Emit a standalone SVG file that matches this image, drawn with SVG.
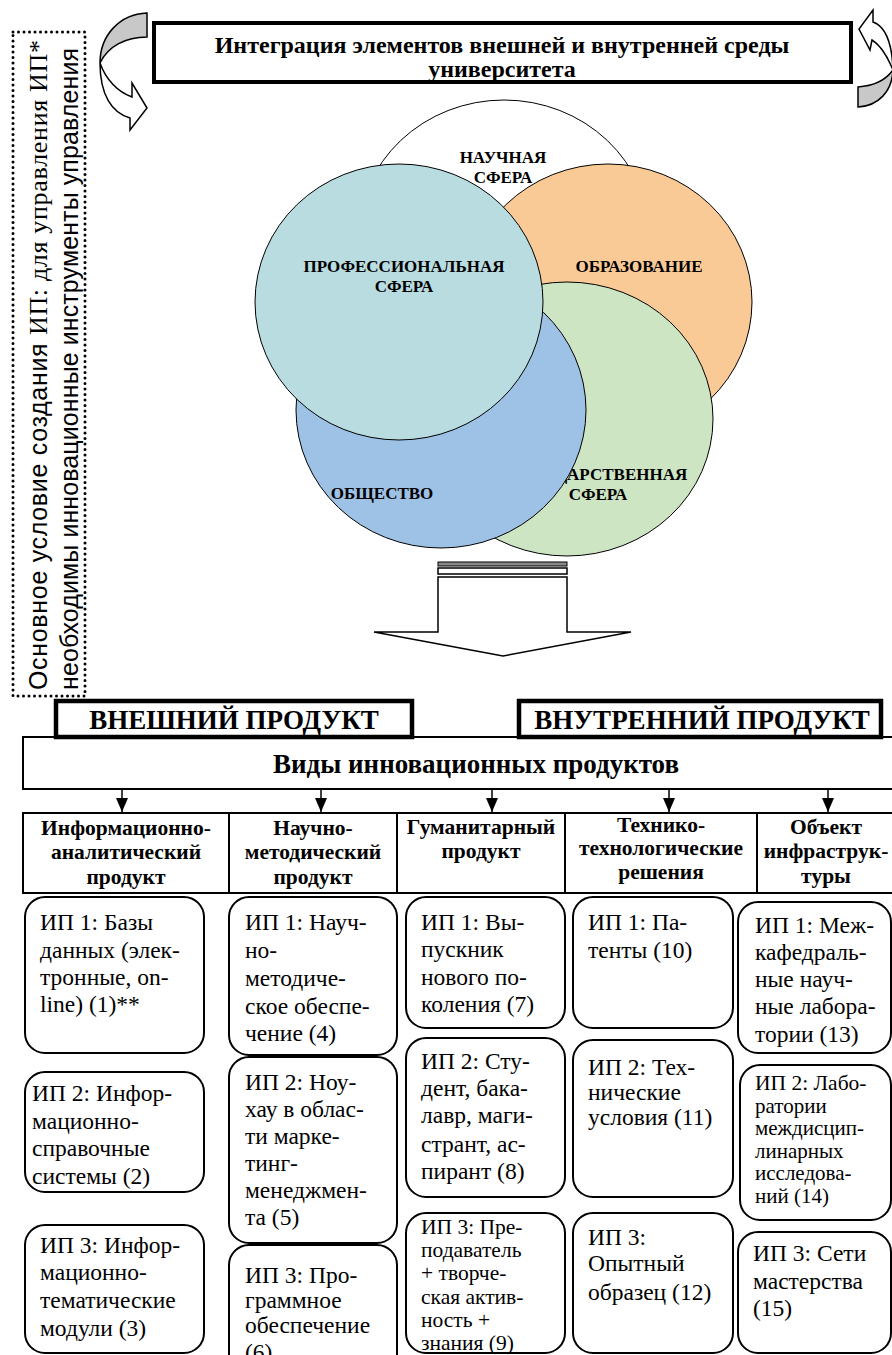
<svg xmlns="http://www.w3.org/2000/svg" width="892" height="1355" viewBox="0 0 892 1355">
<style>
.serif{font-family:"Liberation Serif","Times New Roman",serif;}
.sans{font-family:"Liberation Sans",Arial,sans-serif;}
.hd{font-family:"Liberation Serif","Times New Roman",serif;font-weight:bold;font-size:24px;text-anchor:middle;}
.pr{font-family:"Liberation Serif","Times New Roman",serif;font-weight:bold;font-size:27px;text-anchor:middle;}
.cl{font-family:"Liberation Serif","Times New Roman",serif;font-weight:bold;font-size:17px;text-anchor:middle;}
.th{font-family:"Liberation Serif","Times New Roman",serif;font-weight:bold;font-size:21.5px;text-anchor:middle;}
.bt{font-family:"Liberation Serif","Times New Roman",serif;font-size:23.5px;}
.bs{font-family:"Liberation Serif","Times New Roman",serif;font-size:21px;}
.bm{font-family:"Liberation Serif","Times New Roman",serif;font-size:21.5px;}
.rb{fill:#fff;stroke:#000;stroke-width:2;}
.ln{stroke:#000;stroke-width:1.5;fill:none;}
.circ{stroke:#000;stroke-width:1;}
</style>
<defs>
<marker id="ah" markerWidth="14" markerHeight="12" refX="14" refY="6" orient="auto" markerUnits="userSpaceOnUse" viewBox="0 0 14 12">
<path d="M0,0 L14,6 L0,12 Z" fill="#000"/>
</marker>
</defs>
<rect width="892" height="1355" fill="#fff"/>

<!-- vertical note -->
<g id="note">
<rect x="13" y="32" width="72" height="664" fill="none" stroke="#000" stroke-width="3" stroke-dasharray="0 5.5" stroke-linecap="round"/>
<text transform="translate(47,690) rotate(-90)" font-size="25" textLength="650" lengthAdjust="spacing"><tspan class="sans">Основное условие создания </tspan><tspan class="serif" font-size="26">ИП: для управления ИП*</tspan></text>
<text class="sans" transform="translate(78,690) rotate(-90)" font-size="25" textLength="642" lengthAdjust="spacing">необходимы инновационные инструменты управления</text>
</g>

<!-- curved arrows -->
<g id="curved-left">
<path d="M147,13 C120,14 100,35 100,63 C108,46 126,37 147,37 Z" fill="#c8c8c8" stroke="#000" stroke-width="1.5"/>
<path d="M100,63 C106,80 118,92 132,97 L132,83 L147,108 L130,130 L130,118 C112,113 100,95 100,63 Z" fill="#fff" stroke="#000" stroke-width="1.5"/>
</g>
<g id="curved-right">
<path d="M873,22 C884,26 892,40 893,70 C888,58 882,46 872,40 L870,50 L859,29 L873,10 Z" fill="#fff" stroke="#000" stroke-width="1.5"/>
<path d="M893,70 C892,92 878,106 858,107 L858,87 C873,86 886,80 893,70 Z" fill="#c8c8c8" stroke="#000" stroke-width="1.5"/>
</g>

<!-- header -->
<g id="header">
<rect x="154" y="23" width="697" height="59" fill="#fff" stroke="#000" stroke-width="4"/>
<text class="hd" x="502" y="53">Интеграция элементов внешней и внутренней среды</text>
<text class="hd" x="502" y="77">университета</text>
</g>

<!-- circles -->
<g id="circle-science">
<ellipse class="circ" cx="504" cy="238" rx="146" ry="138" fill="#fff"/>
</g>
<g id="circle-education">
<ellipse class="circ" cx="608" cy="302" rx="144" ry="138" fill="#f9c996"/>
</g>
<g id="circle-state">
<ellipse class="circ" cx="567" cy="419" rx="146" ry="137" fill="#cde5c3"/>
<text class="cl" x="598" y="480">ГОСУДАРСТВЕННАЯ</text>
<text class="cl" x="598" y="500">СФЕРА</text>
</g>
<g id="circle-society">
<ellipse class="circ" cx="441" cy="410" rx="145" ry="138" fill="#9ec2e6"/>
<text class="cl" x="382" y="499">ОБЩЕСТВО</text>
</g>
<g id="circle-prof">
<ellipse class="circ" cx="399" cy="302" rx="144" ry="138" fill="#b8dce0"/>
<text class="cl" x="404" y="272">ПРОФЕССИОНАЛЬНАЯ</text>
<text class="cl" x="404" y="292">СФЕРА</text>
</g>
<g id="labels-top">
<text class="cl" x="503" y="163">НАУЧНАЯ</text>
<text class="cl" x="503" y="183">СФЕРА</text>
<text class="cl" x="639" y="272">ОБРАЗОВАНИЕ</text>
</g>

<!-- block arrow -->
<g id="block-arrow">
<rect x="438" y="562" width="129" height="4" fill="#8a8a8a" stroke="#000" stroke-width="1"/>
<rect x="438" y="568" width="129" height="6" fill="#fff" stroke="#000" stroke-width="1.5"/>
<polygon points="438,577 567,577 567,632 631,632 503,656 374,632 438,632" fill="#fff" stroke="#000" stroke-width="1.5"/>
</g>

<!-- types box -->
<g id="types">
<rect x="23" y="737" width="890" height="52" fill="#fff" stroke="#000" stroke-width="2"/>
<text class="pr" x="476" y="773" font-size="28">Виды инновационных продуктов</text>
</g>
<g id="external">
<rect x="56" y="701" width="356" height="36" fill="#fff" stroke="#000" stroke-width="4.5"/>
<text class="pr" x="234" y="729">ВНЕШНИЙ ПРОДУКТ</text>
</g>
<g id="internal">
<rect x="519" y="701" width="362" height="36" fill="#fff" stroke="#000" stroke-width="4.5"/>
<text class="pr" x="702" y="729">ВНУТРЕННИЙ ПРОДУКТ</text>
</g>

<!-- connectors -->
<g id="connectors">
<line class="ln" x1="122" y1="789" x2="122" y2="812" marker-end="url(#ah)"/>
<line class="ln" x1="321" y1="789" x2="321" y2="812" marker-end="url(#ah)"/>
<line class="ln" x1="492" y1="789" x2="492" y2="812" marker-end="url(#ah)"/>
<line class="ln" x1="669" y1="789" x2="669" y2="812" marker-end="url(#ah)"/>
<line class="ln" x1="828" y1="789" x2="828" y2="812" marker-end="url(#ah)"/>
</g>

<!-- table header -->
<g id="table-header">
<rect x="23" y="813" width="890" height="80" fill="#fff" stroke="#000" stroke-width="2"/>
<line x1="229" y1="813" x2="229" y2="893" stroke="#000" stroke-width="2"/>
<line x1="397" y1="813" x2="397" y2="893" stroke="#000" stroke-width="2"/>
<line x1="565" y1="813" x2="565" y2="893" stroke="#000" stroke-width="2"/>
<line x1="757" y1="813" x2="757" y2="893" stroke="#000" stroke-width="2"/>
<text class="th" x="126" y="835">Информационно-</text>
<text class="th" x="126" y="859">аналитический</text>
<text class="th" x="126" y="884">продукт</text>
<text class="th" x="313" y="835">Научно-</text>
<text class="th" x="313" y="859">методический</text>
<text class="th" x="313" y="884">продукт</text>
<text class="th" x="481" y="834">Гуманитарный</text>
<text class="th" x="481" y="858">продукт</text>
<text class="th" x="661" y="832">Технико-</text>
<text class="th" x="661" y="855">технологические</text>
<text class="th" x="661" y="879">решения</text>
<text class="th" x="826" y="834">Объект</text>
<text class="th" x="826" y="858">инфраструк-</text>
<text class="th" x="826" y="883">туры</text>
</g>

<!-- column 1 -->
<g id="ip1-1">
<rect class="rb" x="25" y="897" width="179" height="156" rx="20"/>
<text class="bt" x="40" y="930">ИП 1: Базы</text>
<text class="bt" x="40" y="958">данных (элек-</text>
<text class="bt" x="40" y="985">тронные, on-</text>
<text class="bt" x="40" y="1012">line) (1)**</text>
</g>
<g id="ip1-2">
<rect class="rb" x="25" y="1072" width="179" height="120" rx="20"/>
<text class="bt" x="32" y="1101">ИП 2: Инфор-</text>
<text class="bt" x="32" y="1129">мационно-</text>
<text class="bt" x="32" y="1156">справочные</text>
<text class="bt" x="32" y="1184">системы (2)</text>
</g>
<g id="ip1-3">
<rect class="rb" x="25" y="1225" width="179" height="128" rx="20"/>
<text class="bt" x="40" y="1253">ИП 3: Инфор-</text>
<text class="bt" x="40" y="1280">мационно-</text>
<text class="bt" x="40" y="1308">тематические</text>
<text class="bt" x="40" y="1336">модули (3)</text>
</g>

<!-- column 2 -->
<g id="ip2-1">
<rect class="rb" x="229" y="897" width="168" height="158" rx="20"/>
<text class="bt" x="245" y="930">ИП 1: Науч-</text>
<text class="bt" x="245" y="958">но-</text>
<text class="bt" x="245" y="986">методиче-</text>
<text class="bt" x="245" y="1014">ское обеспе-</text>
<text class="bt" x="245" y="1041">чение (4)</text>
</g>
<g id="ip2-2">
<rect class="rb" x="229" y="1057" width="168" height="186" rx="20"/>
<text class="bt" x="245" y="1090">ИП 2: Ноу-</text>
<text class="bt" x="245" y="1117">хау в облас-</text>
<text class="bt" x="245" y="1144">ти марке-</text>
<text class="bt" x="245" y="1171">тинг-</text>
<text class="bt" x="245" y="1198">менеджмен-</text>
<text class="bt" x="245" y="1225">та (5)</text>
</g>
<g id="ip2-3">
<rect class="rb" x="229" y="1245" width="168" height="130" rx="20"/>
<text class="bt" x="245" y="1283">ИП 3: Про-</text>
<text class="bt" x="245" y="1308">граммное</text>
<text class="bt" x="245" y="1333">обеспечение</text>
<text class="bt" x="245" y="1360">(6)</text>
</g>

<!-- column 3 -->
<g id="ip3-1">
<rect class="rb" x="406" y="897" width="159" height="131" rx="20"/>
<text class="bt" x="421" y="930">ИП 1: Вы-</text>
<text class="bt" x="421" y="957">пускник</text>
<text class="bt" x="421" y="985">нового по-</text>
<text class="bt" x="421" y="1012">коления (7)</text>
</g>
<g id="ip3-2">
<rect class="rb" x="406" y="1038" width="159" height="159" rx="20"/>
<text class="bt" x="421" y="1069">ИП 2: Сту-</text>
<text class="bt" x="421" y="1096">дент, бака-</text>
<text class="bt" x="421" y="1123">лавр, маги-</text>
<text class="bt" x="421" y="1152">странт, ас-</text>
<text class="bt" x="421" y="1179">пирант (8)</text>
</g>
<g id="ip3-3">
<rect class="rb" x="406" y="1213" width="159" height="140" rx="20"/>
<text class="bm" x="421" y="1234">ИП 3: Пре-</text>
<text class="bm" x="421" y="1257.2">подаватель</text>
<text class="bm" x="421" y="1280.4">+ творче-</text>
<text class="bm" x="421" y="1303.6">ская актив-</text>
<text class="bm" x="421" y="1326.8">ность +</text>
<text class="bm" x="421" y="1350">знания (9)</text>
</g>

<!-- column 4 -->
<g id="ip4-1">
<rect class="rb" x="573" y="897" width="160" height="131" rx="20"/>
<text class="bt" x="588" y="930">ИП 1: Па-</text>
<text class="bt" x="588" y="958">тенты (10)</text>
</g>
<g id="ip4-2">
<rect class="rb" x="573" y="1040" width="160" height="157" rx="20"/>
<text class="bt" x="588" y="1075">ИП 2: Тех-</text>
<text class="bt" x="588" y="1100">нические</text>
<text class="bt" x="588" y="1125">условия (11)</text>
</g>
<g id="ip4-3">
<rect class="rb" x="573" y="1213" width="160" height="140" rx="20"/>
<text class="bt" x="588" y="1245">ИП 3:</text>
<text class="bt" x="588" y="1271">Опытный</text>
<text class="bt" x="588" y="1300">образец (12)</text>
</g>

<!-- column 5 -->
<g id="ip5-1">
<rect class="rb" x="738" y="902" width="153" height="151" rx="20"/>
<text class="bt" x="755" y="933">ИП 1: Меж-</text>
<text class="bt" x="755" y="960">кафедраль-</text>
<text class="bt" x="755" y="987">ные науч-</text>
<text class="bt" x="755" y="1014">ные лабора-</text>
<text class="bt" x="755" y="1042">тории (13)</text>
</g>
<g id="ip5-2">
<rect class="rb" x="740" y="1065" width="151" height="155" rx="20"/>
<text class="bm" x="755" y="1090">ИП 2: Лабо-</text>
<text class="bs" x="755" y="1113">ратории</text>
<text class="bs" x="755" y="1135">междисцип-</text>
<text class="bs" x="755" y="1158">линарных</text>
<text class="bs" x="755" y="1180">исследова-</text>
<text class="bs" x="755" y="1203">ний (14)</text>
</g>
<g id="ip5-3">
<rect class="rb" x="738" y="1232" width="153" height="121" rx="20"/>
<text class="bt" x="753" y="1261">ИП 3: Сети</text>
<text class="bt" x="753" y="1289">мастерства</text>
<text class="bt" x="753" y="1316">(15)</text>
</g>
</svg>
